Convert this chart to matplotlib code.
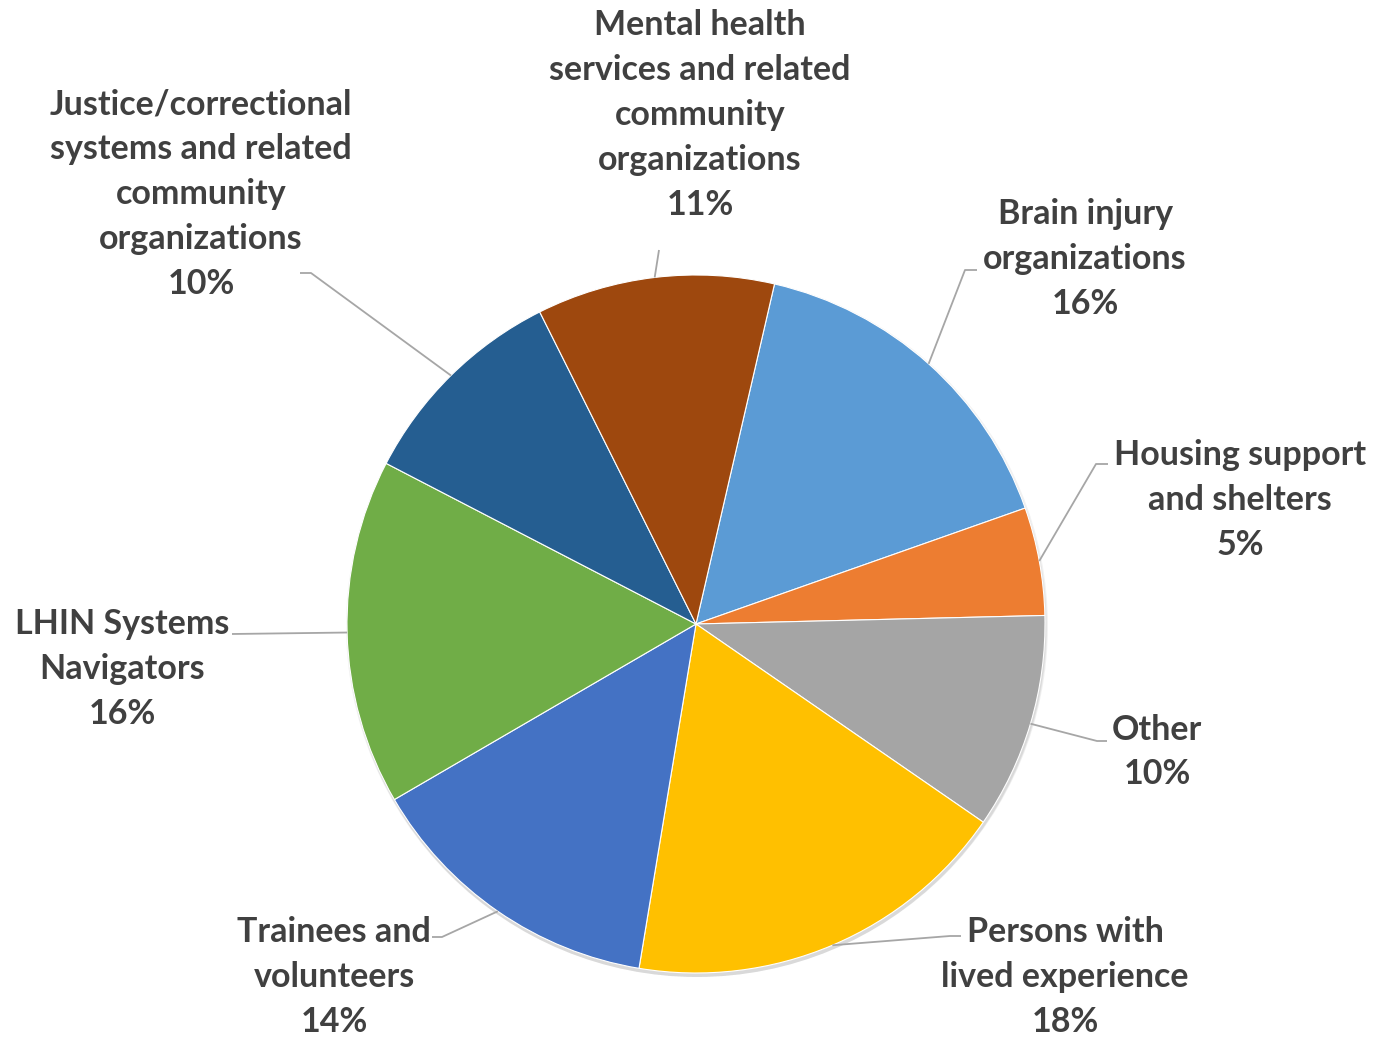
import matplotlib.pyplot as plt
import numpy as np
from matplotlib.patches import Circle

# data (clockwise from the brown/blue boundary near 12 o'clock)
labels = ['Brain injury\norganizations', 'Housing support\nand shelters', 'Other',
          'Persons with\nlived experience', 'Trainees and\nvolunteers', 'LHIN Systems\nNavigators',
          'Justice/correctional\nsystems and related\ncommunity\norganizations',
          'Mental health\nservices and related\ncommunity\norganizations']
shares = [16, 5, 10, 18, 14, 16, 10, 11]
colors = ['#5B9BD5', '#ED7D31', '#A5A5A5', '#FFC000', '#4472C4', '#70AD47', '#255E91', '#9E480E']

# layout in pixel coords (y from top): text centre, elbow point, line end
text_pos = [(1085, 259), (1240, 500), (1157, 752), (1065, 977), (334, 977),
            (122, 669), (201, 194), (700, 115)]
elbows = [(965, 270), (1096, 464), (1097, 741), (950, 936), (442, 937),
          None, (311, 273), None]
ends = [(977, 270), (1108, 464), (1107, 741), (961, 936), (432, 937),
        (232, 634), (300, 273), (659, 250)]

W, H = 1394, 1037
cx, cy, R = 696, 624, 349

fig = plt.figure(figsize=(W / 100, H / 100), dpi=100)
ax = fig.add_axes([0, 0, 1, 1])

def py(y):
    return H - y

# soft shadow
for k, a in enumerate([0.05, 0.05, 0.05]):
    ax.add_patch(Circle((cx + 1, py(cy) - 2 - k), R + 2 - k, color='black', alpha=a, lw=0, zorder=0))

wedges, _ = ax.pie(shares, colors=colors, startangle=77, counterclock=False,
                   radius=R, center=(cx, py(cy)), frame=True,
                   wedgeprops=dict(linewidth=0.8, edgecolor='white'))
ax.set_xlim(0, W)
ax.set_ylim(0, H)
ax.axis('off')

for i, w in enumerate(wedges):
    mid = np.deg2rad((w.theta1 + w.theta2) / 2)
    x0 = cx + R * np.cos(mid)
    y0 = py(cy) + R * np.sin(mid)
    xs, ys = [x0], [y0]
    if elbows[i] is not None:
        xs.append(elbows[i][0]); ys.append(py(elbows[i][1]))
    xs.append(ends[i][0]); ys.append(py(ends[i][1]))
    ax.plot(xs, ys, color='#A6A6A6', lw=1.3, zorder=1, solid_capstyle='butt')
    tx, ty = text_pos[i]
    ax.text(tx, py(ty), labels[i] + '\n%d%%' % shares[i], ha='center', va='center',
            multialignment='center', fontsize=24.5, fontweight='bold', family='Lato',
            color='#404040', linespacing=1.5)

fig.savefig('out.png', dpi=100)
